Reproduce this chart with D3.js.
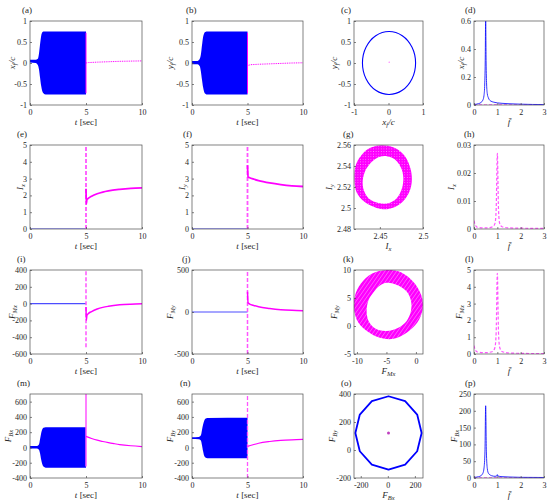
<!DOCTYPE html>
<html>
<head>
<meta charset="utf-8">
<script src="https://cdn.jsdelivr.net/npm/d3@7"></script>
<style>
body { margin: 0; background: #fff; }
text { font-family: "Liberation Serif", "DejaVu Serif", serif; fill: #262626; }
.tick text { font-size: 8px; }
.tick line { stroke: #4d4d4d; stroke-width: 0.7; }
.lab { font-size: 9px; }
.plab { font-size: 9px; }
</style>
</head>
<body>
<svg width="550" height="504"></svg>
<script>
// ---- data ----
var tTicks = [0, 5, 10];
var fTicks = [0, 1, 2, 3];

// (a),(b) envelopes of the fast oscillation: [t, low, high]
var xfEnv = [[0, 0.01, 0.08], [0.5, 0.0, 0.08], [0.7, -0.05, 0.10], [0.8, -0.15, 0.22], [0.9, -0.35, 0.45],
  [1.0, -0.55, 0.65], [1.1, -0.67, 0.73], [1.2, -0.72, 0.75], [1.4, -0.75, 0.75], [5.0, -0.75, 0.75]];
var xfAfter = [[5.0, 0.0], [5.2, 0.01], [6, 0.02], [7, 0.03], [8, 0.04], [9, 0.045], [10, 0.05]];
var xfJump = [-0.72, 0.72];
var yfEnv = [[0, -0.03, 0.05], [0.5, -0.03, 0.05], [0.7, -0.08, 0.10], [0.8, -0.20, 0.20], [0.9, -0.40, 0.42],
  [1.0, -0.58, 0.62], [1.1, -0.69, 0.71], [1.2, -0.73, 0.74], [1.4, -0.75, 0.75], [5.0, -0.75, 0.75]];
var yfAfter = [[5.0, -0.06], [5.3, -0.04], [6, -0.03], [7, -0.02], [8, -0.01], [9, 0.0], [10, 0.005]];
var yfJump = [-0.72, 0.72];

// (c) orbit x_f/c vs y_f/c
var orbitXY = [[0.785, 0], [0.682, 0.375], [0.40, 0.65], [0.015, 0.75], [-0.37, 0.65], [-0.652, 0.375],
  [-0.755, 0], [-0.652, -0.375], [-0.37, -0.65], [0.015, -0.75], [0.40, -0.65], [0.682, -0.375]];
var orbitXYCenter = [0.02, 0.02];

// (d) spectrum of x_f/c
var specXfBlue = [[0, 0.004], [0.2, 0.01], [0.3, 0.018], [0.38, 0.035], [0.43, 0.07], [0.46, 0.15], [0.48, 0.3],
  [0.5, 0.62], [0.52, 0.3], [0.54, 0.15], [0.57, 0.08], [0.62, 0.05], [0.7, 0.03], [0.85, 0.02], [1.0, 0.015],
  [1.2, 0.012], [1.5, 0.009], [2, 0.006], [2.5, 0.004], [3, 0.003]];
var specXfMag = [[0, 0.002], [0.5, 0.001], [1, 0.002], [1.5, 0.001], [3, 0.001]];

var zeroLine = [[0, 0], [5, 0]];

// (e),(f) currents
var ixAfter = [[5.0, 2.4], [5.03, 1.5], [5.08, 1.75], [5.2, 1.82], [5.5, 1.95], [6, 2.1], [6.5, 2.2], [7, 2.27],
  [8, 2.36], [9, 2.42], [10, 2.45]];
var ixJump = [0, 5];
var iyAfter = [[5.0, 3.8], [5.05, 3.1], [5.2, 3.05], [5.5, 2.98], [6, 2.88], [7, 2.74], [8, 2.64], [9, 2.57], [10, 2.53]];
var iyJump = [0, 5];

// (g) I_x vs I_y ring
var ringIOuter = [[2.4521, 2.5597], [2.4675, 2.5572], [2.4791, 2.5493], [2.4857, 2.5368], [2.4869, 2.5242],
  [2.4830, 2.5133], [2.4733, 2.5038], [2.4598, 2.4991], [2.4463, 2.5001], [2.4328, 2.5054], [2.4231, 2.5148],
  [2.4205, 2.5274], [2.4223, 2.5415], [2.4308, 2.5525], [2.4405, 2.5578]];
var ringIInner = [[2.4579, 2.5493], [2.4675, 2.5462], [2.4745, 2.5384], [2.4772, 2.5289], [2.4753, 2.5180],
  [2.4695, 2.5092], [2.4598, 2.5045], [2.4482, 2.5048], [2.4378, 2.5085], [2.4316, 2.5164], [2.4301, 2.5258],
  [2.4339, 2.5368], [2.4424, 2.5453], [2.4501, 2.5487]];

// (h) spectrum of I_x
var specIx = [[0, 0.003], [0.05, 0.0015], [0.15, 0.0006], [0.5, 0.0004], [0.8, 0.0008], [0.9, 0.002], [0.95, 0.007],
  [1.0, 0.027], [1.05, 0.007], [1.1, 0.002], [1.2, 0.0008], [1.5, 0.0004], [2, 0.0003], [3, 0.0002]];

// (i),(j) magnetic forces
var fmxAfter = [[5.0, -40], [5.03, -200], [5.08, -140], [5.2, -120], [5.5, -95], [6, -65], [6.5, -45], [7, -32],
  [8, -15], [9, -7], [10, -3]];
var fmxJump = [-520, 400];
var fmyAfter = [[5.0, 240], [5.05, 110], [5.2, 95], [5.5, 80], [6, 62], [7, 42], [8, 28], [9, 20], [10, 15]];
var fmyJump = [-500, 500];

// (k) F_Mx vs F_My ring
var ringFmOuter = [[-4.96, 10.0], [-2.99, 9.77], [-1.29, 8.74], [0.24, 6.93], [1.09, 4.82], [1.09, 2.72], [0.24, 0.61],
  [-1.57, -1.2], [-3.83, -2.29], [-6.09, -2.11], [-8.07, -1.08], [-9.77, 0.61], [-10.5, 3.02], [-10.33, 5.43],
  [-9.37, 7.54], [-7.5, 9.34]];
var ringFmInner = [[-4.96, 7.72], [-2.99, 7.24], [-1.57, 6.15], [-0.84, 4.53], [-0.84, 2.72], [-1.57, 0.91],
  [-2.99, -0.3], [-4.96, -0.9], [-6.66, -0.6], [-7.9, 0.61], [-8.35, 2.41], [-8.07, 4.53], [-6.94, 6.33], [-6.09, 7.24]];

// (l) spectrum of F_Mx
var specFmx = [[0, 0.5], [0.05, 0.25], [0.15, 0.12], [0.5, 0.08], [0.8, 0.15], [0.9, 0.4], [0.95, 1.3], [1.0, 4.8],
  [1.05, 1.3], [1.1, 0.4], [1.2, 0.15], [1.5, 0.06], [2, 0.04], [3, 0.02]];

// (m),(n) bearing forces
var fbxEnv = [[0, -15, 20], [0.6, -15, 20], [0.8, -30, 40], [0.9, -80, 110], [1.0, -160, 190], [1.1, -220, 240],
  [1.2, -250, 258], [1.4, -265, 265], [5.0, -265, 265]];
var fbxAfter = [[5.0, 145], [5.5, 118], [6, 95], [6.5, 78], [7, 63], [7.5, 50], [8, 38], [9, 22], [10, 12]];
var fbxJump = [-250, 700];
var fbyEnv = [[0, 110, 135], [0.6, 108, 138], [0.8, 90, 160], [0.9, 30, 230], [1.0, -50, 300], [1.1, -110, 350],
  [1.2, -130, 375], [1.4, -140, 385], [5.0, -140, 390]];
var fbyAfter = [[5.0, 15], [5.5, 35], [6, 55], [7, 78], [8, 92], [9, 100], [10, 105]];
var fbyJump = [-400, 700];

// (o) F_Bx vs F_By orbit
var orbitFB = [[250, 122], [217, 253], [128, 349], [5, 384], [-118, 349], [-207, 253], [-240, 122], [-207, -9],
  [-118, -105], [5, -140], [128, -105], [217, -9]];
var orbitFBCenter = [5, 122];

// (p) spectrum of F_Bx
var specFbxBlue = [[0, 2], [0.2, 4], [0.3, 7], [0.38, 14], [0.43, 30], [0.47, 80], [0.5, 215], [0.53, 80], [0.57, 28],
  [0.62, 14], [0.75, 7], [0.9, 5], [0.98, 6], [1.0, 10], [1.02, 6], [1.2, 4], [1.5, 3], [2, 2], [3, 1.5]];
var specFbxMag = [[0, 0.6], [1, 0.6], [2, 0.5], [3, 0.5]];

// ---- layout ----
var svg = d3.select('svg');
var BLUE = '#0000ff', MAG = '#ff00ff', LMAG = '#ff55ff';
var colX = [30, 192, 354, 474];
var colW = [112, 111, 69, 70];
var rowY = [21, 145, 270, 394];
var rowH = 84;

var TSEC = [['t', 'i'], [' [sec]', '']];
var FBAR = [['f\u0304', 'i']];

var defs = svg.append('defs');
var pk = defs.append('pattern').attr('id', 'stripeK').attr('patternUnits', 'userSpaceOnUse')
  .attr('width', 3.2).attr('height', 3.2).attr('patternTransform', 'rotate(35)');
pk.append('rect').attr('width', 3.2).attr('height', 3.2).attr('fill', MAG);
pk.append('line').attr('x1', 0).attr('y1', 0).attr('x2', 0).attr('y2', 3.2)
  .attr('stroke', '#ffd0ff').attr('stroke-width', 0.7);
var pg = defs.append('pattern').attr('id', 'dotG').attr('patternUnits', 'userSpaceOnUse')
  .attr('width', 2.6).attr('height', 2.6);
pg.append('rect').attr('width', 2.6).attr('height', 2.6).attr('fill', MAG);
pg.append('circle').attr('cx', 1.3).attr('cy', 1.3).attr('r', 0.5).attr('fill', '#ff9cff');

function env(p, x, y, data, color) {
  p.append('path')
    .attr('d', d3.area().x(function(d) { return x(d[0]); }).y0(function(d) { return y(d[1]); })
      .y1(function(d) { return y(d[2]); }).curve(d3.curveMonotoneX)(data))
    .attr('fill', color);
}

function line(p, x, y, data, o) {
  p.append('path')
    .attr('d', d3.line().x(function(d) { return x(d[0]); }).y(function(d) { return y(d[1]); })
      .curve(o.curve || d3.curveLinear)(data))
    .attr('fill', 'none').attr('stroke', o.c).attr('stroke-width', o.w)
    .attr('stroke-dasharray', o.dash || null).attr('stroke-linejoin', 'round');
}

function vline(p, x, y, t, ext, o) {
  p.append('line').attr('x1', x(t)).attr('x2', x(t)).attr('y1', y(ext[0])).attr('y2', y(ext[1]))
    .attr('stroke', o.c).attr('stroke-width', o.w).attr('stroke-dasharray', o.dash || null);
}

function loopPath(x, y, pts) {
  return d3.line().x(function(d) { return x(d[0]); }).y(function(d) { return y(d[1]); })
    .curve(d3.curveCatmullRomClosed)(pts);
}

function ring(p, x, y, outer, inner, fill) {
  p.append('path').attr('d', loopPath(x, y, outer) + loopPath(x, y, inner))
    .attr('fill-rule', 'evenodd').attr('fill', fill);
}

function dot(p, x, y, c, color, r) {
  p.append('circle').attr('cx', x(c[0])).attr('cy', y(c[1])).attr('r', r).attr('fill', color);
}

function addText(t, parts) {
  parts.forEach(function(q, i) {
    var s = t.append('tspan').text(q[0]);
    if (q[1] === 'i' || q[1] === 's') s.attr('font-style', 'italic');
    if (q[1] === 's') s.attr('font-size', '6.5px').attr('dy', 2);
    else if (i > 0 && parts[i - 1][1] === 's') s.attr('dy', -2);
  });
}

var fmt = function(d) { return String(d); };

var panels = [
  {id: 'a', col: 0, row: 0, xd: [0, 10], yd: [-1, 1], xt: tTicks, yt: [-1, -0.5, 0, 0.5, 1], xl: TSEC,
    yl: [['x', 'i'], ['f', 's'], ['/c', 'i']], yo: -18, lx: 22,
    draw: function(p, x, y) {
      env(p, x, y, xfEnv, BLUE);
      vline(p, x, y, 5, xfJump, {c: MAG, w: 1});
      line(p, x, y, xfAfter, {c: MAG, w: 1, dash: '1,0.8'});
    }},
  {id: 'b', col: 1, row: 0, xd: [0, 10], yd: [-1, 1], xt: tTicks, yt: [-1, -0.5, 0, 0.5, 1], xl: TSEC,
    yl: [['y', 'i'], ['f', 's'], ['/c', 'i']], yo: -22, lx: 186,
    draw: function(p, x, y) {
      env(p, x, y, yfEnv, BLUE);
      vline(p, x, y, 5, yfJump, {c: MAG, w: 1});
      line(p, x, y, yfAfter, {c: MAG, w: 1, dash: '1,0.8'});
    }},
  {id: 'c', col: 2, row: 0, xd: [-1, 1], yd: [-1, 1], xt: [-1, 0, 1], yt: [-1, -0.5, 0, 0.5, 1],
    xl: [['x', 'i'], ['f', 's'], ['/c', 'i']], yl: [['y', 'i'], ['f', 's'], ['/c', 'i']], yo: -20, lx: 341,
    draw: function(p, x, y) {
      p.append('path').attr('d', loopPath(x, y, orbitXY)).attr('fill', 'none')
        .attr('stroke', BLUE).attr('stroke-width', 1.1);
      dot(p, x, y, orbitXYCenter, LMAG, 0.6);
    }},
  {id: 'd', col: 3, row: 0, xd: [0, 3], yd: [0, 0.6], xt: fTicks, yt: [0, 0.2, 0.4, 0.6], xl: FBAR,
    yl: [['x', 'i'], ['f', 's'], ['/c', 'i']], yo: -13, lx: 465,
    draw: function(p, x, y) {
      line(p, x, y, specXfMag, {c: LMAG, w: 1, dash: '3,2'});
      line(p, x, y, specXfBlue, {c: BLUE, w: 0.8, curve: d3.curveMonotoneX});
    }},

  {id: 'e', col: 0, row: 1, xd: [0, 10], yd: [0, 5], xt: tTicks, yt: [0, 1, 2, 3, 4, 5], xl: TSEC,
    yl: [['I', 'i'], ['x', 's']], yo: -10, lx: 17,
    draw: function(p, x, y) {
      line(p, x, y, zeroLine, {c: '#4d4dff', w: 1.2});
      vline(p, x, y, 5, ixJump, {c: LMAG, w: 1.8, dash: '4,2'});
      line(p, x, y, ixAfter, {c: MAG, w: 1.8, curve: d3.curveMonotoneX});
    }},
  {id: 'f', col: 1, row: 1, xd: [0, 10], yd: [0, 5], xt: tTicks, yt: [0, 1, 2, 3, 4, 5], xl: TSEC,
    yl: [['I', 'i'], ['y', 's']], yo: -10, lx: 183,
    draw: function(p, x, y) {
      line(p, x, y, zeroLine, {c: '#4d4dff', w: 1.2});
      vline(p, x, y, 5, iyJump, {c: LMAG, w: 1.8, dash: '4,2'});
      line(p, x, y, iyAfter, {c: MAG, w: 1.8, curve: d3.curveMonotoneX});
    }},
  {id: 'g', col: 2, row: 1, xd: [2.42, 2.5], yd: [2.48, 2.56], xt: [2.45, 2.5], yt: [2.48, 2.5, 2.52, 2.54, 2.56],
    xl: [['I', 'i'], ['x', 's']], yl: [['I', 'i'], ['y', 's']], yo: -25, lx: 343,
    draw: function(p, x, y) {
      ring(p, x, y, ringIOuter, ringIInner, 'url(#dotG)');
    }},
  {id: 'h', col: 3, row: 1, xd: [0, 3], yd: [0, 0.03], xt: fTicks, yt: [0, 0.01, 0.02, 0.03], xl: FBAR,
    yl: [['I', 'i'], ['x', 's']], yo: -23, lx: 464,
    draw: function(p, x, y) {
      line(p, x, y, specIx, {c: LMAG, w: 1.2, dash: '3,2', curve: d3.curveMonotoneX});
    }},

  {id: 'i', col: 0, row: 2, xd: [0, 10], yd: [-600, 400], xt: tTicks, yt: [-600, -400, -200, 0, 200, 400], xl: TSEC,
    yl: [['F', 'i'], ['Mx', 's']], yo: -18, lx: 17,
    draw: function(p, x, y) {
      line(p, x, y, zeroLine, {c: '#4d4dff', w: 1.2});
      vline(p, x, y, 5, fmxJump, {c: LMAG, w: 1.5, dash: '4,2'});
      line(p, x, y, fmxAfter, {c: MAG, w: 1.5, curve: d3.curveMonotoneX});
    }},
  {id: 'j', col: 1, row: 2, xd: [0, 10], yd: [-500, 500], xt: tTicks, yt: [-500, 0, 500], xl: TSEC,
    yl: [['F', 'i'], ['My', 's']], yo: -22, lx: 182,
    draw: function(p, x, y) {
      line(p, x, y, zeroLine, {c: '#4d4dff', w: 1.2});
      vline(p, x, y, 5, fmyJump, {c: LMAG, w: 1.5, dash: '4,2'});
      line(p, x, y, fmyAfter, {c: MAG, w: 1.5, curve: d3.curveMonotoneX});
    }},
  {id: 'k', col: 2, row: 2, xd: [-10.5, 1.2], yd: [-5, 10], xt: [-10, -5, 0], yt: [-5, 0, 5, 10],
    xl: [['F', 'i'], ['Mx', 's']], yl: [['F', 'i'], ['My', 's']], yo: -20, lx: 343,
    draw: function(p, x, y) {
      ring(p, x, y, ringFmOuter, ringFmInner, 'url(#stripeK)');
    }},
  {id: 'l', col: 3, row: 2, xd: [0, 3], yd: [0, 5], xt: fTicks, yt: [0, 1, 2, 3, 4, 5], xl: FBAR,
    yl: [['F', 'i'], ['Mx', 's']], yo: -15, lx: 465,
    draw: function(p, x, y) {
      line(p, x, y, specFmx, {c: LMAG, w: 1.2, dash: '3,2', curve: d3.curveMonotoneX});
    }},

  {id: 'm', col: 0, row: 3, xd: [0, 10], yd: [-400, 700], xt: tTicks, yt: [-400, -200, 0, 200, 400, 600], xl: TSEC,
    yl: [['F', 'i'], ['Bx', 's']], yo: -22, lx: 17,
    draw: function(p, x, y) {
      env(p, x, y, fbxEnv, BLUE);
      vline(p, x, y, 5, fbxJump, {c: LMAG, w: 1.5});
      line(p, x, y, fbxAfter, {c: MAG, w: 1.2, curve: d3.curveMonotoneX});
    }},
  {id: 'n', col: 1, row: 3, xd: [0, 10], yd: [-400, 700], xt: tTicks, yt: [-400, -200, 0, 200, 400, 600], xl: TSEC,
    yl: [['F', 'i'], ['By', 's']], yo: -22, lx: 180,
    draw: function(p, x, y) {
      env(p, x, y, fbyEnv, BLUE);
      vline(p, x, y, 5, fbyJump, {c: LMAG, w: 1.3, dash: '4,2'});
      line(p, x, y, fbyAfter, {c: MAG, w: 1.2, curve: d3.curveMonotoneX});
    }},
  {id: 'o', col: 2, row: 3, xd: [-250, 260], yd: [-200, 400], xt: [-200, 0, 200], yt: [-200, 0, 200, 400],
    xl: [['F', 'i'], ['Bx', 's']], yl: [['F', 'i'], ['By', 's']], yo: -22, lx: 341,
    draw: function(p, x, y) {
      p.append('path').attr('d', d3.line().x(function(d) { return x(d[0]); }).y(function(d) { return y(d[1]); })
          .curve(d3.curveLinearClosed)(orbitFB))
        .attr('fill', 'none').attr('stroke', BLUE).attr('stroke-width', 1.8).attr('stroke-linejoin', 'round');
      dot(p, x, y, orbitFBCenter, '#c040c0', 1.5);
    }},
  {id: 'p', col: 3, row: 3, xd: [0, 3], yd: [0, 250], xt: fTicks, yt: [0, 50, 100, 150, 200, 250], xl: FBAR,
    yl: [['F', 'i'], ['Bx', 's']], yo: -20, lx: 465,
    draw: function(p, x, y) {
      line(p, x, y, specFbxMag, {c: LMAG, w: 1, dash: '3,2'});
      line(p, x, y, specFbxBlue, {c: BLUE, w: 0.8, curve: d3.curveMonotoneX});
    }}
];

panels.forEach(function(pd) {
  var w = colW[pd.col], h = rowH;
  var x0 = colX[pd.col], y0 = rowY[pd.row];
  var g = svg.append('g').attr('transform', 'translate(' + [x0, y0] + ')');
  var xs = d3.scaleLinear().domain(pd.xd).range([0, w]);
  var ys = d3.scaleLinear().domain(pd.yd).range([h, 0]);

  defs.append('clipPath').attr('id', 'clip' + pd.id)
    .append('rect').attr('width', w).attr('height', h);
  var plot = g.append('g').attr('clip-path', 'url(#clip' + pd.id + ')');
  pd.draw(plot, xs, ys);

  var xa = g.append('g').attr('transform', 'translate(0,' + h + ')')
    .call(d3.axisBottom(xs).tickValues(pd.xt).tickSize(-2).tickPadding(4).tickFormat(fmt));
  var ya = g.append('g')
    .call(d3.axisLeft(ys).tickValues(pd.yt).tickSize(-2).tickPadding(3).tickFormat(fmt));
  [xa, ya].forEach(function(a) {
    a.attr('font-family', null).attr('font-size', null);
    a.select('.domain').remove();
  });

  g.append('rect').attr('width', w).attr('height', h)
    .attr('fill', 'none').attr('stroke', '#4d4d4d').attr('stroke-width', 0.7);

  var xl = g.append('text').attr('class', 'lab').attr('x', w / 2).attr('y', h + 20)
    .attr('text-anchor', 'middle');
  addText(xl, pd.xl);

  var yl = g.append('text').attr('class', 'lab').attr('text-anchor', 'middle')
    .attr('transform', 'translate(' + (pd.yo + 3) + ',' + (h / 2) + ') rotate(-90)');
  addText(yl, pd.yl);

  svg.append('text').attr('class', 'plab').attr('x', pd.lx).attr('y', y0 - 8).text('(' + pd.id + ')');
});
</script>
</body>
</html>
